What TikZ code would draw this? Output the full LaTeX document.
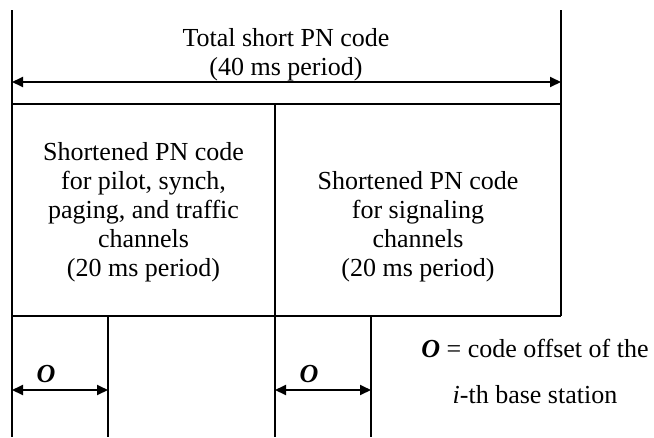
\documentclass[tikz,border=0pt]{standalone}
\usepackage{fontspec}
\setmainfont{Liberation Serif}
\usetikzlibrary{arrows.meta}
\tikzset{
  ln/.style={line width=1.9pt},
  dim/.style={line width=1.9pt,{Triangle[length=11pt,width=10pt]}-{Triangle[length=11pt,width=10pt]}},
  txt/.style={inner sep=0pt,align=center,font=\fontsize{26}{29}\selectfont},
}
\begin{document}
\begin{tikzpicture}[x=1pt,y=-1pt]
\useasboundingbox (0,0) rectangle (654,437);
% structure lines
\draw[ln] (12,10) -- (12,437);
\draw[ln] (561,10) -- (561,316);
\draw[ln] (12,104) -- (561,104);
\draw[ln] (12,316) -- (561,316);
\draw[ln] (275,104) -- (275,437);
\draw[ln] (108,316) -- (108,437);
\draw[ln] (371,316) -- (371,437);
% dimension end coordinates
\coordinate (tL) at (12,82);
\coordinate (tR) at (561,82);
\coordinate (aL) at (12,390);
\coordinate (aR) at (108,390);
\coordinate (bL) at (275,390);
\coordinate (bR) at (371,390);
\draw[dim] (tL) -- (tR);
\draw[dim] (aL) -- (aR);
\draw[dim] (bL) -- (bR);
% texts
\node[txt] (total) at (286,55) {Total short PN code\\(40 ms period)};
\node[txt] (left) at (143.5,212) {Shortened PN code\\for pilot, synch,\\paging, and traffic\\channels\\(20 ms period)};
\node[txt] (right) at (418,226.5) {Shortened PN code\\for signaling\\channels\\(20 ms period)};
\node[txt] (o1) at (46,374) {\textbf{\textit{O}}};
\node[txt] (o2) at (309,374) {\textbf{\textit{O}}};
\node[txt] (leg1) at (535,348) {\textbf{\textit{O}} = code offset of the};
\node[txt] (leg2) at (535,395) {\textit{i}-th base station};
\end{tikzpicture}
\end{document}
